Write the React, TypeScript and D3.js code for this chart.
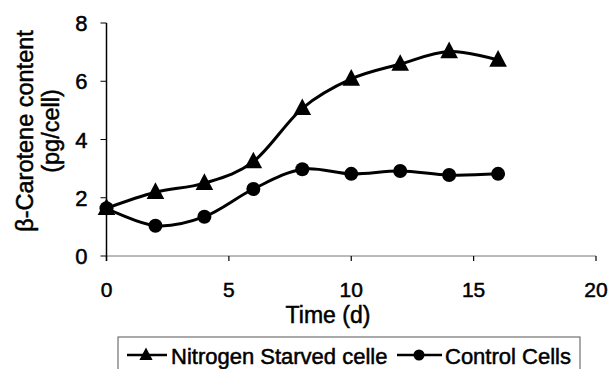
import React from "react";
import * as d3 from "d3";

const days = [0, 2, 4, 6, 8, 10, 12, 14, 16];
const nitrogenStarved = [1.64, 2.19, 2.5, 3.24, 5.07, 6.08, 6.59, 7.02, 6.73];
const controlCells = [1.64, 1.04, 1.35, 2.3, 2.98, 2.82, 2.92, 2.78, 2.82];
const xTicks = [0, 5, 10, 15, 20];
const yTicks = [0, 2, 4, 6, 8];
const seriesNames = ["Nitrogen Starved celle", "Control Cells"];

const W = 611;
const H = 369;
const FONT = "'Liberation Sans', Arial, sans-serif";

export default function App() {
  const x = d3.scaleLinear().domain([0, 20]).range([106.5, 596]);
  const y = d3.scaleLinear().domain([0, 8]).range([256, 23]);
  const line = d3
    .line<[number, number]>()
    .x((d) => x(d[0]))
    .y((d) => y(d[1]))
    .curve(d3.curveCardinal.tension(0));
  const nPts = days.map((d, i) => [d, nitrogenStarved[i]] as [number, number]);
  const cPts = days.map((d, i) => [d, controlCells[i]] as [number, number]);
  const tri = (cx: number, cy: number, s: number) =>
    `M${cx},${cy - s * 0.62}L${cx + s * 0.55},${cy + s * 0.42}L${cx - s * 0.55},${cy + s * 0.42}Z`;
  const txt = (size: number) =>
    ({ fontFamily: FONT, fontSize: size, fill: "#000", stroke: "#000", strokeWidth: 0.5 } as const);

  return (
    <svg
      width={W}
      height={H}
      style={{ position: "absolute", left: 0, top: 0, background: "#fff" }}
    >
      <rect x={0} y={0} width={W} height={H} fill="#fff" />
      {/* axes */}
      <line x1={x(0)} x2={x(20)} y1={y(0)} y2={y(0)} stroke="#777" strokeWidth={1} />
      <line x1={x(0)} x2={x(0)} y1={y(8)} y2={y(0) + 5} stroke="#000" strokeWidth={1.5} />
      {xTicks.map((t) => (
        <g key={"xt" + t}>
          <line x1={x(t)} x2={x(t)} y1={y(0)} y2={y(0) + 5} stroke="#000" strokeWidth={1.2} />
          <text x={x(t)} y={y(0) + 41} textAnchor="middle" {...txt(21)}>
            {t}
          </text>
        </g>
      ))}
      {yTicks.map((t) => (
        <g key={"yt" + t}>
          <line x1={x(0) - 6} x2={x(0)} y1={y(t)} y2={y(t)} stroke="#000" strokeWidth={1} />
          <text x={x(0) - 19} y={y(t) + 8} textAnchor="end" {...txt(22)}>
            {t}
          </text>
        </g>
      ))}
      <text x={328} y={323} textAnchor="middle" {...txt(23)}>
        Time (d)
      </text>
      <g transform="translate(33,131) rotate(-90)">
        <text x={0} y={0} textAnchor="middle" {...txt(23.5)}>
          β-Carotene content
        </text>
        <text x={0} y={26} textAnchor="middle" {...txt(23.5)}>
          (pg/cell)
        </text>
      </g>
      {/* series */}
      <path d={line(nPts) || ""} fill="none" stroke="#000" strokeWidth={3} />
      <path d={line(cPts) || ""} fill="none" stroke="#000" strokeWidth={3} />
      {nPts.map((p, i) => (
        <path key={"n" + i} d={tri(x(p[0]), y(p[1]), 16)} fill="#000" />
      ))}
      {cPts.map((p, i) => (
        <circle key={"c" + i} cx={x(p[0])} cy={y(p[1])} r={7} fill="#000" />
      ))}
      {/* legend */}
      <rect x={118} y={337} width={462} height={40} fill="none" stroke="#555" strokeWidth={1} />
      <line x1={127} x2={167} y1={355} y2={355} stroke="#000" strokeWidth={2.5} />
      <path d={tri(146, 355, 12)} fill="#000" />
      <text x={171} y={364} {...txt(22)}>
        {seriesNames[0]}
      </text>
      <line x1={397} x2={442} y1={355} y2={355} stroke="#000" strokeWidth={2.5} />
      <circle cx={419} cy={355} r={5.5} fill="#000" />
      <text x={445} y={364} {...txt(22)}>
        {seriesNames[1]}
      </text>
    </svg>
  );
}
